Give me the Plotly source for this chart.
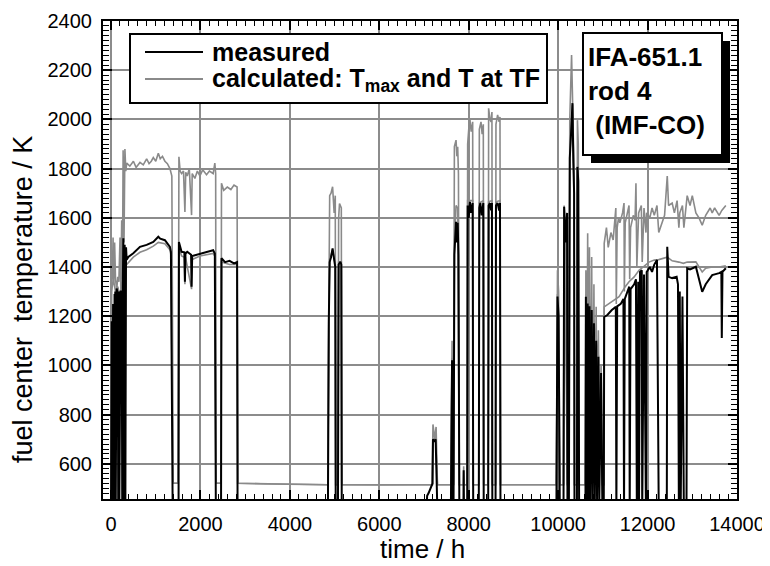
import plotly.graph_objects as go

# ---------------- data ----------------
# measured fuel centre temperature (values below the axis -> 400, clipped)
meas_t = [0, 15, 22, 30, 38, 46, 54, 62, 70, 78, 86, 94, 105, 126, 150, 160, 175, 185, 201, 215, 238, 250, 262, 275, 290, 305, 320, 335, 350,
          387, 498, 647, 796, 945, 1057, 1100, 1205, 1317, 1339, 1379,
          1510, 1518, 1577, 1640, 1652, 1665, 1704, 1790, 1801, 1815, 1875, 1987, 2135, 2284, 2321, 2344,
          2460, 2470, 2550, 2650, 2750, 2819, 2830,
          4850, 4870, 4890, 4920, 4955, 4990, 5015, 5025, 5075, 5090, 5130, 5150, 5160,
          7050, 7070, 7100, 7150, 7190, 7200, 7230, 7260, 7300,
          7600, 7627, 7640, 7660, 7679, 7700, 7716, 7735, 7753, 7770, 7790, 7880, 7887, 7895,
          7965, 7976, 8000, 8028, 8055, 8088, 8100, 8225, 8237, 8260, 8290, 8326, 8335,
          8435, 8445, 8475, 8500, 8519, 8528, 8600, 8609, 8646, 8680, 8699, 8710,
          9960, 9985, 10010, 10037, 10120, 10134, 10170, 10200, 10208, 10240, 10260, 10290, 10320, 10340, 10357, 10365,
          10420, 10431, 10450, 10469,
          10610, 10620, 10640, 10660, 10680, 10700, 10720, 10750, 10770, 10800, 10820, 10850, 10870, 10900, 10920, 10960, 10990,
          11020, 11030, 11100, 11200, 11290, 11302, 11320, 11400, 11460, 11473, 11490, 11550, 11590, 11600, 11620, 11700,
          11740, 11760, 11790, 11808, 11830, 11870, 11880, 11920, 11964, 11980, 12050, 12100, 12150, 12210, 12250,
          12430, 12440, 12470, 12550, 12650, 12680, 12700, 12720, 12740, 12780, 12812, 12870, 12886, 12950, 13080,
          13150, 13222, 13300, 13445, 13600, 13650, 13660, 13675, 13750]
meas_T = [400, 1180, 420, 1230, 420, 1250, 430, 1280, 420, 1290, 430, 1300, 430, 1313, 1290, 440, 1300, 440, 1265, 1300, 1300, 420, 1300, 1517, 420, 1490, 430, 1480, 1430,
          1441, 1456, 1482, 1490, 1502, 1523, 1515, 1509, 1482, 1462, 400,
          400, 1502, 1462, 1460, 1340, 1455, 1462, 1450, 1320, 1445, 1448, 1456, 1462, 1468, 1455, 400,
          400, 1436, 1420, 1425, 1415, 1420, 400,
          400, 1180, 1420, 1440, 1476, 1430, 1400, 400, 400, 1410, 1421, 1410, 400,
          400, 470, 480, 500, 520, 700, 690, 700, 400,
          400, 1021, 400, 400, 1450, 1560, 1584, 1500, 1580, 1450, 400, 400, 574, 400,
          400, 1650, 1600, 1665, 1620, 1660, 400, 400, 1640, 1660, 1610, 1660, 400,
          400, 1650, 1660, 1630, 1660, 400, 400, 1650, 1660, 1630, 1660, 400,
          400, 1280, 1200, 400, 400, 1645, 1500, 1620, 400, 400, 1843, 1950, 2066, 1822, 1700, 400,
          400, 1807, 1750, 400,
          400, 1279, 450, 1252, 450, 1240, 450, 1225, 450, 1171, 450, 1100, 450, 1035, 450, 969, 400,
          400, 1197, 1205, 1225, 1238, 400, 1240, 1250, 1270, 400, 1270, 1300, 1320, 400, 1310, 1330,
          1350, 400, 1340, 400, 1380, 1387, 400, 1370, 400, 1380, 1400, 1380, 1410, 1428, 400,
          400, 1482, 1360, 1355, 1360, 1330, 400, 1300, 400, 1280, 400, 400, 1395, 1390, 1401,
          1350, 1299, 1330, 1367, 1375, 1380, 1111, 1380, 1395]

# calculated maximum temperature T_max
tmax_t = [0, 10, 30, 45, 60, 80, 100, 126, 150, 175, 201, 220, 238, 255, 270, 290, 310, 330, 350,
          420, 500, 560, 647, 720, 796, 850, 900, 945, 1000, 1057, 1100, 1150, 1205, 1260, 1317, 1339, 1360, 1390,
          1500, 1518, 1545, 1577, 1620, 1652, 1670, 1704, 1750, 1801, 1815, 1875, 1930, 1987, 2050, 2135, 2200, 2284,
          2321, 2340, 2350, 2460, 2470, 2520, 2600, 2680, 2750, 2819, 2835,
          3500, 4200, 4850, 4870, 4890, 4920, 4955, 4990, 5015, 5025, 5075, 5090, 5110, 5150, 5160,
          6000, 7180, 7200, 7240, 7270, 7300,
          7600, 7627, 7640, 7660, 7679, 7700, 7716, 7735, 7753, 7770, 7790, 7880, 7887, 7895,
          7965, 7976, 8000, 8028, 8055, 8088, 8100, 8225, 8237, 8274, 8300, 8326, 8335,
          8435, 8445, 8475, 8500, 8519, 8528, 8600, 8609, 8646, 8680, 8699, 8710,
          9300, 9960, 9985, 10010, 10037, 10120, 10134, 10170, 10208, 10240, 10260, 10300, 10320, 10340, 10357, 10365,
          10420, 10431, 10450, 10469,
          10610, 10620, 10640, 10660, 10680, 10700, 10720, 10750, 10770, 10800, 10820, 10850, 10870, 10900, 10920, 10960, 10990,
          11020, 11030, 11080, 11120, 11180, 11230, 11290, 11300, 11320, 11350, 11380, 11440, 11473, 11480, 11500, 11550,
          11585, 11600, 11620, 11680, 11720, 11740, 11760, 11800, 11860, 11880, 11920, 11964, 11980, 12050, 12100,
          12150, 12210, 12250, 12300, 12380, 12440, 12470, 12550, 12600, 12660, 12700, 12720, 12780, 12812, 12886,
          12950, 13000, 13080, 13150, 13222, 13300, 13400, 13445, 13500, 13600, 13660, 13750]
tmax_T = [515, 1340, 1360, 1520, 1330, 1500, 1350, 1306, 1360, 1340, 1520, 1300, 1590, 1350, 1875, 1500, 1880, 1790, 1822,
          1810, 1830, 1805, 1825, 1815, 1840, 1820, 1830, 1845, 1830, 1862, 1840, 1850, 1830, 1820, 1800, 1782, 1770, 521,
          521, 1848, 1790, 1780, 1790, 1624, 1785, 1770, 1800, 1611, 1780, 1760, 1790, 1770, 1795, 1775, 1790, 1780,
          1822, 1780, 521, 521, 1740, 1712, 1725, 1715, 1733, 1725, 521,
          518, 515, 515, 1200, 1690, 1700, 1726, 1620, 1690, 515, 515, 1600, 1658, 1640, 515,
          514, 515, 760, 700, 750, 515,
          515, 1100, 600, 515, 1889, 1900, 1916, 1850, 1889, 1780, 515, 515, 590, 515,
          515, 1900, 1960, 1997, 1950, 1990, 515, 515, 1960, 1990, 1940, 1980, 515,
          515, 2045, 2000, 1990, 2030, 515, 515, 1980, 2018, 1990, 2010, 515,
          514, 515, 1387, 1300, 515, 515, 1611, 1500, 515, 515, 2000, 2262, 2100, 1900, 1760, 515,
          515, 1997, 1900, 515,
          515, 1387, 600, 1537, 600, 1480, 600, 1441, 600, 1330, 600, 1238, 600, 1143, 600, 1000, 515,
          515, 1496, 1560, 1480, 1540, 1510, 1640, 1250, 1560, 1600, 1580, 1620, 1660, 1300, 1580, 1620,
          1650, 1350, 1560, 1610, 1590, 1740, 1400, 1620, 1650, 1420, 1640, 1540, 1620, 1600, 1640,
          1610, 1650, 1540, 1570, 1610, 1770, 1650, 1660, 1620, 1670, 1560, 1620, 1650, 1560, 1690,
          1650, 1690, 1620, 1600, 1570, 1610, 1640, 1620, 1640, 1610, 1630, 1650]

# calculated temperature at the thermocouple (TF)
ttf_t = [0, 10, 50, 100, 150, 201, 250, 275, 300, 350, 387, 498, 647, 796, 945, 1057, 1205, 1317, 1339, 1385,
         1500, 1518, 1577, 1640, 1652, 1665, 1801, 1815, 1987, 2135, 2284, 2321, 2345,
         2460, 2470, 2650, 2819, 2832,
         3500, 4200, 4850, 4870, 4890, 4955, 5015, 5025, 5075, 5090, 5150, 5160,
         6000, 7190, 7200, 7260, 7300,
         7600, 7627, 7640, 7660, 7679, 7716, 7753, 7790, 7965, 7976, 8088, 8100, 8225, 8237, 8326, 8335,
         8435, 8445, 8519, 8528, 8600, 8609, 8699, 8710,
         9300, 9960, 9985, 10037, 10120, 10134, 10208, 10240, 10260, 10320, 10357, 10365, 10420, 10431, 10469,
         10610, 10620, 10700, 10800, 10900, 10990,
         11020, 11030, 11200, 11362, 11500, 11585, 11700, 11808, 11900, 12031, 12150, 12250, 12440, 12550, 12700,
         12800, 12886, 13080, 13222, 13300, 13445, 13600, 13750]
ttf_T = [515, 1300, 1350, 1300, 1320, 1280, 1350, 1420, 1400, 1410, 1420, 1440, 1460, 1470, 1485, 1500, 1495, 1470, 1450, 521,
         521, 1480, 1445, 1440, 1330, 1440, 1310, 1430, 1445, 1450, 1455, 1445, 521,
         521, 1420, 1410, 1410, 521,
         518, 515, 515, 1180, 1430, 1470, 1410, 515, 515, 1420, 1420, 515,
         514, 515, 700, 700, 515,
         515, 1030, 515, 515, 1500, 1650, 1640, 515, 515, 1670, 1670, 515, 515, 1660, 1670, 515,
         515, 1665, 1670, 515, 515, 1665, 1670, 515,
         514, 515, 1290, 515, 515, 1650, 515, 515, 1850, 2060, 1710, 515, 515, 1810, 515,
         515, 1290, 1250, 1180, 1040, 515,
         515, 1238, 1260, 1279, 1320, 1340, 1360, 1387, 1400, 1420, 1428, 1430, 1440, 1425, 1420,
         1415, 1420, 1421, 1380, 1395, 1400, 1400, 1405]

x_ticks = [0, 2000, 4000, 6000, 8000, 10000, 12000, 14000]
x_labels = ["0", "2000", "4000", "6000", "8000", "10000", "12000", "14000"]
y_ticks = [600, 800, 1000, 1200, 1400, 1600, 1800, 2000, 2200, 2400]
y_labels = ["600", "800", "1000", "1200", "1400", "1600", "1800", "2000", "2200", "2400"]

GRAY = "#8a8a8a"
FONT = "Liberation Sans, Arial, sans-serif"

fig = go.Figure()
fig.add_trace(go.Scatter(x=tmax_t, y=tmax_T, mode="lines", name="calculated: T<sub>max</sub>",
                         line=dict(color=GRAY, width=1.6), showlegend=False))
fig.add_trace(go.Scatter(x=ttf_t, y=ttf_T, mode="lines", name="calculated: T at TF",
                         line=dict(color=GRAY, width=1.6), showlegend=False))
fig.add_trace(go.Scatter(x=meas_t, y=meas_T, mode="lines", name="measured",
                         line=dict(color="black", width=2), showlegend=False))

# the page puts the figure 8 px from the window's top-left corner
OFF = 8
W, H = 770 - OFF, 566 - OFF
# plot area on screen: x 103..737, y 21..499
SX0, SX1, SY0, SY1 = 103, 737, 21, 499
L, R, T, B = SX0 - OFF, W - (SX1 - OFF), SY0 - OFF, H - (SY1 - OFF)
pw, ph = SX1 - SX0, SY1 - SY0

def px(x):
    return (x - SX0) / pw

def py(y):
    return (SY1 - y) / ph

shapes = []
# legend box
shapes.append(dict(type="rect", xref="paper", yref="paper", x0=px(130), x1=px(547), y0=py(103), y1=py(34),
                   fillcolor="white", line=dict(color="black", width=2), layer="above"))
shapes.append(dict(type="line", xref="paper", yref="paper", x0=px(145), x1=px(203), y0=py(52), y1=py(52),
                   line=dict(color="black", width=2), layer="above"))
shapes.append(dict(type="line", xref="paper", yref="paper", x0=px(145), x1=px(203), y0=py(79), y1=py(79),
                   line=dict(color=GRAY, width=2), layer="above"))
# info box with shadow
shapes.append(dict(type="rect", xref="paper", yref="paper", x0=px(591), x1=px(730), y0=py(163), y1=py(41),
                   fillcolor="black", line=dict(color="black", width=0), layer="above"))
shapes.append(dict(type="rect", xref="paper", yref="paper", x0=px(583), x1=px(722), y0=py(155), y1=py(33),
                   fillcolor="white", line=dict(color="black", width=2), layer="above"))

ann = []
ann.append(dict(xref="paper", yref="paper", x=px(211), y=py(52), xanchor="left", yanchor="middle",
                text="<b>measured</b>", showarrow=False, borderpad=0,
                font=dict(size=25, color="black", family=FONT)))
ann.append(dict(xref="paper", yref="paper", x=px(211), y=py(80), xanchor="left", yanchor="middle",
                text="<b>calculated: T<sub>max</sub> and T at TF</b>", showarrow=False, borderpad=0,
                font=dict(size=25, color="black", family=FONT)))
for txt, yy in [("IFA-651.1", 57), ("rod 4", 91), ("\u00a0(IMF-CO)", 125)]:
    ann.append(dict(xref="paper", yref="paper", x=px(587), y=py(yy), xanchor="left", yanchor="middle",
                    text="<b>" + txt + "</b>", showarrow=False, borderpad=0,
                    font=dict(size=26, color="black", family=FONT)))
ann.append(dict(xref="paper", yref="paper", x=px(422), y=py(565), xanchor="center", yanchor="bottom",
                text="time / h", showarrow=False, borderpad=0,
                font=dict(size=26, color="black", family=FONT)))
ann.append(dict(xref="paper", yref="paper", x=px(23), y=py(300), xanchor="center", yanchor="middle",
                text="fuel center\u00a0 temperature / K", textangle=-90, showarrow=False, borderpad=0,
                font=dict(size=27, color="black", family=FONT)))

axis_common = dict(
    showline=True, linecolor="black", linewidth=2, mirror="allticks",
    ticks="inside", tickcolor="black", tickwidth=1.5,
    showgrid=True, gridcolor="#8c8c8c", gridwidth=1.5, zeroline=False, automargin=False,
    tickfont=dict(size=20, color="black", family=FONT),
)

fig.update_layout(
    width=W, height=H, margin=dict(l=L, r=R, t=T, b=B, autoexpand=False),
    paper_bgcolor="white", plot_bgcolor="white",
    font=dict(family=FONT, color="black"),
    showlegend=False,
    shapes=shapes, annotations=ann,
    xaxis=dict(range=[-180, 14000], tickmode="array", tickvals=x_ticks, ticktext=x_labels, ticklen=9,
               minor=dict(dtick=200, tick0=0, ticks="inside", ticklen=5, tickcolor="black", tickwidth=1, showgrid=False),
               ticklabelstandoff=6, **axis_common),
    yaxis=dict(range=[457, 2400], tickmode="array", tickvals=y_ticks, ticktext=y_labels, ticklen=9,
               minor=dict(dtick=20, tick0=0, ticks="inside", ticklen=6, tickcolor="black", tickwidth=1, showgrid=False),
               ticklabelstandoff=5, **axis_common),
)

fig.write_html("out.html")
